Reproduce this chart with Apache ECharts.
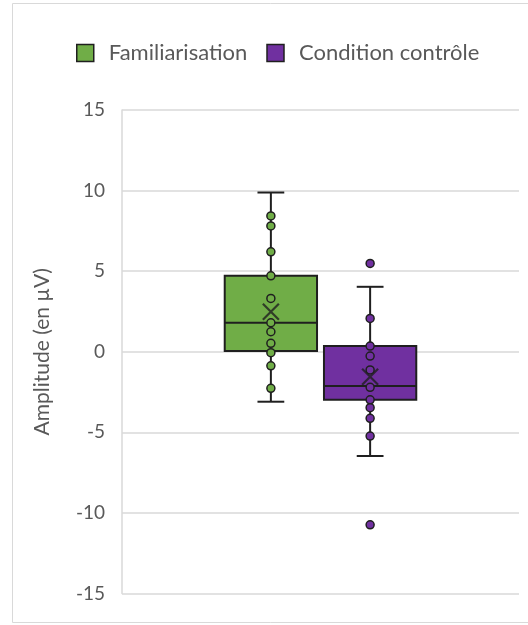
<!DOCTYPE html>
<html><head><meta charset="utf-8">
<script src="https://cdn.jsdelivr.net/npm/echarts@6/dist/echarts.min.js"></script>
<style>html,body{margin:0;padding:0;background:#fff}#c{width:528px;height:625px}</style>
</head><body><div id="c"></div>
<script>
// ---- data ----
const categories = ['Familiarisation', 'Condition contrôle'];
const axisSlots = [' ', 'Familiarisation', 'Condition contrôle', '  '];
// [whisker low, Q1, median, Q3, whisker high]
const famStats = [-3.1, 0.05, 1.8, 4.71, 9.88];
const ctrlStats = [-6.47, -2.98, -2.13, 0.35, 4.03];
const means = [2.48, -1.55];
const famPoints = [8.43, 7.81, 6.20, 4.71, 3.31, 1.80, 1.24, 0.52, -0.06, -0.87, -2.27];
const ctrlPoints = [5.48, 2.07, 0.35, -0.27, -1.13, -2.21, -2.98, -3.47, -4.13, -5.23, -10.74];
const yTicks = { min: -15, max: 15, interval: 5 };
const colors = ['#70AD47', '#7030A0'];

const edge = '#1f1f1f';
const FONT = 'Lato';

function renderBox(params, api) {
  const x = api.value(0);
  const lo = api.coord([x, api.value(1)]);
  const q1 = api.coord([x, api.value(2)]);
  const md = api.coord([x, api.value(3)]);
  const q3 = api.coord([x, api.value(4)]);
  const hi = api.coord([x, api.value(5)]);
  const band = api.size([1, 0])[0];
  const bw = band * 0.93, cap = band * 0.27;
  const cx = lo[0];
  const ls = { stroke: edge, lineWidth: 2 };
  return {
    type: 'group',
    children: [
      { type: 'line', shape: { x1: cx, y1: hi[1], x2: cx, y2: q3[1] }, style: ls },
      { type: 'line', shape: { x1: cx, y1: q1[1], x2: cx, y2: lo[1] }, style: ls },
      { type: 'line', shape: { x1: cx - cap / 2, y1: hi[1], x2: cx + cap / 2, y2: hi[1] }, style: ls },
      { type: 'line', shape: { x1: cx - cap / 2, y1: lo[1], x2: cx + cap / 2, y2: lo[1] }, style: ls },
      { type: 'rect', shape: { x: cx - bw / 2, y: q3[1], width: bw, height: q1[1] - q3[1] },
        style: { fill: api.visual('color'), stroke: edge, lineWidth: 2 } },
      { type: 'line', shape: { x1: cx - bw / 2, y1: md[1], x2: cx + bw / 2, y2: md[1] }, style: ls }
    ]
  };
}

const stats = [famStats, ctrlStats];
const pts = [famPoints, ctrlPoints];
const series = [];
categories.forEach((name, i) => {
  series.push({
    name, type: 'custom', renderItem: renderBox, z: 2,
    itemStyle: { color: colors[i], borderColor: edge, borderWidth: 1.5 },
    encode: { x: 0, y: [1, 2, 3, 4, 5] },
    data: [[name].concat(stats[i])]
  });
});
categories.forEach((name, i) => {
  series.push({
    name, type: 'scatter', z: 4, symbol: 'circle', symbolSize: 8,
    itemStyle: { color: colors[i], borderColor: edge, borderWidth: 1.5, opacity: 1 },
    data: pts[i].map(v => [name, v])
  });
});
series.push({
  name: 'mean', type: 'scatter', z: 5,
  symbol: 'path://M0 0L10 10M10 0L0 10', symbolSize: 16,
  itemStyle: { color: 'none', borderColor: edge, borderWidth: 2.2 },
  data: categories.map((c, i) => [c, means[i]])
});

const chart = echarts.init(document.getElementById('c'), null, { renderer: 'canvas' });
chart.setOption({
  animation: false,
  textStyle: { fontFamily: FONT },
  graphic: [{ type: 'rect', shape: { x: 12.5, y: 3.5, width: 530, height: 619 },
    style: { fill: 'none', stroke: '#d9d9d9', lineWidth: 1 }, z: -10 }],
  legend: {
    data: categories.map(n => ({ name: n, icon: 'rect' })),
    left: 76, top: 42, padding: 0, itemWidth: 17, itemHeight: 17, itemGap: 19,
    itemStyle: { borderColor: edge, borderWidth: 1.5 },
    textStyle: { color: '#595959', fontSize: 22, fontFamily: FONT, padding: [0, 0, 0, 10] }
  },
  grid: { left: 122, right: 9, top: 110, bottom: 31.5, containLabel: false },
  xAxis: {
    type: 'category', data: axisSlots, boundaryGap: true,
    axisLine: { show: false }, axisTick: { show: false }, axisLabel: { show: false },
    splitLine: { show: false }
  },
  yAxis: {
    type: 'value', min: yTicks.min, max: yTicks.max, interval: yTicks.interval,
    name: 'Amplitude (en µV)', nameLocation: 'middle', nameGap: 69,
    nameTextStyle: { color: '#595959', fontSize: 21, fontFamily: FONT },
    axisLine: { show: true, lineStyle: { color: '#d9d9d9', width: 1.5 } },
    axisTick: { show: false },
    axisLabel: { color: '#595959', fontSize: 19, fontFamily: FONT, margin: 17 },
    splitLine: { lineStyle: { color: '#d9d9d9', width: 1.5 } }
  },
  series
});
</script></body></html>
